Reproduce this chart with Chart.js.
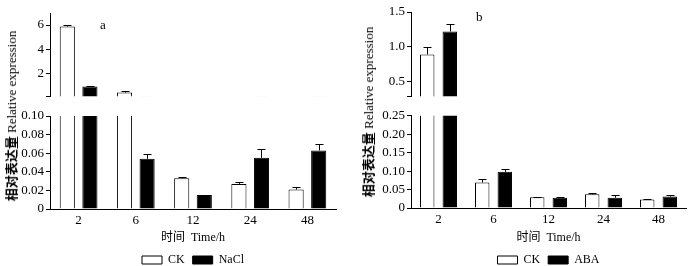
<!DOCTYPE html>
<html>
<head>
<meta charset="utf-8">
<script src="https://cdn.jsdelivr.net/npm/chart.js@4/dist/chart.umd.min.js"></script>
<style>
  body { margin: 0; background: #fff; }
  #wrap { position: relative; width: 700px; height: 266px; overflow: hidden; background: #fff;
          font-family: "Liberation Serif", "Noto Sans CJK SC", serif; color: #000; }
  canvas { position: absolute; }
  .ytitle { position: absolute; white-space: nowrap; font-size: 13px; line-height: 1;
            transform: translate(-50%, -50%) rotate(-90deg); }
  .ytitle b { font-family: "Noto Sans CJK SC", sans-serif; font-weight: 700; }
  .tag { position: absolute; font-size: 13px; line-height: 1; }
</style>
</head>
<body>
<div id="wrap">
  <canvas id="aTop" width="345" height="106" style="left:0;top:0"></canvas>
  <canvas id="aBot" width="345" height="170" style="left:0;top:106px"></canvas>
  <canvas id="bTop" width="350" height="106" style="left:350px;top:0"></canvas>
  <canvas id="bBot" width="350" height="170" style="left:350px;top:106px"></canvas>
  <div class="ytitle" style="left:11px;top:116px"><b>相对表达量</b> Relative expression</div>
  <div class="ytitle" style="left:368px;top:112px"><b>相对表达量</b> Relative expression</div>
  <div class="tag" style="left:100px;top:18px">a</div>
  <div class="tag" style="left:476px;top:10px">b</div>
</div>
<script>
const times = ['2', '6', '12', '24', '48'];

// a: NaCl treatment
const ckA = [5.88, 0.4, 0.033, 0.027, 0.021];
const ckAErr = [0.15, 0.1, 0.001, 0.002, 0.003];
const naclA = [0.9, 0.054, 0.015, 0.055, 0.063];
const naclAErr = [0.05, 0.005, 0.0005, 0.009, 0.007];

// b: ABA treatment
const ckB = [0.89, 0.069, 0.029, 0.037, 0.023];
const ckBErr = [0.1, 0.009, 0.002, 0.005, 0.002];
const abaB = [1.22, 0.098, 0.028, 0.028, 0.031];
const abaBErr = [0.11, 0.008, 0.001, 0.008, 0.003];

// broken y axes (upper / lower parts)
const aUpperRange = [0.1, 7];
const aUpperTicks = [0.1, 2, 4, 6];
const aLowerRange = [0, 0.1];
const aLowerTicks = [0, 0.02, 0.04, 0.06, 0.08, 0.1];
const bUpperRange = [0.29, 1.5];
const bUpperTicks = [0.29, 0.5, 1.0, 1.5];
const bLowerRange = [0, 0.25];
const bLowerTicks = [0, 0.05, 0.1, 0.15, 0.2, 0.25];

const family = '"Liberation Serif", "Noto Sans CJK SC", serif';
const font = { family, size: 12 };
const tickFont = { family, size: 13 };

// error bars: line up from the bar top plus a small cap
const errorBars = {
  id: 'errorBars',
  afterDatasetsDraw(chart, args, opts) {
    const { ctx, chartArea } = chart;
    const y = chart.scales.y;
    ctx.save();
    ctx.beginPath();
    ctx.rect(chartArea.left, chartArea.top, chartArea.right - chartArea.left, chartArea.bottom - chartArea.top);
    ctx.clip();
    ctx.strokeStyle = '#000';
    ctx.lineWidth = 1;
    opts.errors.forEach((errs, i) => {
      const meta = chart.getDatasetMeta(i);
      const vals = chart.data.datasets[i].data;
      meta.data.forEach((bar, j) => {
        // only bars whose top lies inside this part of the broken axis
        if (vals[j] + errs[j] <= y.min || vals[j] >= y.max) return;
        const top = Math.round(y.getPixelForValue(vals[j] + errs[j])) + 0.5;
        const base = y.getPixelForValue(vals[j]);
        const x = Math.round(bar.x) + 0.5;
        ctx.beginPath();
        ctx.moveTo(x, base);
        ctx.lineTo(x, top);
        ctx.moveTo(x - 4, top);
        ctx.lineTo(x + 4, top);
        ctx.stroke();
      });
    });
    ctx.restore();
  }
};

function makeChart(id, cfg) {
  const ctx = document.getElementById(id).getContext('2d');
  return new Chart(ctx, {
    type: 'bar',
    data: {
      labels: times,
      datasets: [
        { label: 'CK', data: cfg.ck, backgroundColor: '#fff', borderColor: '#000', borderWidth: 1,
          categoryPercentage: cfg.catPct, barPercentage: cfg.barPct },
        { label: cfg.name, data: cfg.treat, backgroundColor: '#000', borderColor: '#000', borderWidth: 1,
          categoryPercentage: cfg.catPct, barPercentage: cfg.barPct }
      ]
    },
    options: {
      responsive: false,
      animation: false,
      devicePixelRatio: 1,
      layout: { padding: cfg.padding },
      plugins: {
        legend: {
          display: cfg.lower,
          position: 'bottom',
          fullSize: false,
          labels: { boxWidth: 20, boxHeight: 8, padding: 8, font, color: '#000' }
        },
        tooltip: { enabled: false },
        errorBars: { errors: cfg.errs }
      },
      scales: {
        x: {
          display: cfg.lower,
          grid: { display: false, drawTicks: false },
          border: { display: true, color: '#000', width: 1 },
          ticks: { font: tickFont, color: '#000', padding: 4 },
          title: { display: true, text: '时间  Time/h', font, color: '#000', padding: { top: 0, bottom: 1 } },
          afterFit: s => { s.height = cfg.xHeight; }
        },
        y: {
          min: cfg.range[0],
          max: cfg.range[1],
          afterBuildTicks: s => { s.ticks = cfg.ticks.map(v => ({ value: v })); },
          afterFit: s => { s.width = cfg.yWidth; },
          grid: { drawOnChartArea: false, drawTicks: true, tickLength: 4, color: '#000' },
          border: { display: true, color: '#000', width: 1 },
          ticks: { font: tickFont, color: '#000', padding: 2, autoSkip: false, callback: v => cfg.fmt(v) }
        }
      }
    },
    plugins: [errorBars]
  });
}

const fmtA = v => (v === aUpperRange[0] ? '' : String(v));
const fmtLow = v => (v === 0 ? '0' : v.toFixed(2));
const fmtB = v => (v === bUpperRange[0] ? '' : v.toFixed(1));

makeChart('aTop', { ck: ckA, treat: naclA, name: 'NaCl', errs: [ckAErr, naclAErr], lower: false,
  range: aUpperRange, ticks: aUpperTicks, fmt: fmtA, yWidth: 50, xHeight: 0,
  catPct: 0.79, barPct: 0.67, padding: { top: 13, bottom: 2, left: 0, right: 9 } });
makeChart('aBot', { ck: ckA, treat: naclA, name: 'NaCl', errs: [ckAErr, naclAErr], lower: true,
  range: aLowerRange, ticks: aLowerTicks, fmt: fmtLow, yWidth: 50, xHeight: 37,
  catPct: 0.79, barPct: 0.67, padding: { top: 10, bottom: 0, left: 0, right: 9 } });
makeChart('bTop', { ck: ckB, treat: abaB, name: 'ABA', errs: [ckBErr, abaBErr], lower: false,
  range: bUpperRange, ticks: bUpperTicks, fmt: fmtB, yWidth: 61, xHeight: 0,
  catPct: 0.82, barPct: 0.64, padding: { top: 12, bottom: 3, left: 0, right: 14 } });
makeChart('bBot', { ck: ckB, treat: abaB, name: 'ABA', errs: [ckBErr, abaBErr], lower: true,
  range: bLowerRange, ticks: bLowerTicks, fmt: fmtLow, yWidth: 61, xHeight: 38,
  catPct: 0.82, barPct: 0.64, padding: { top: 9, bottom: 0, left: 0, right: 14 } });
</script>
</body>
</html>
